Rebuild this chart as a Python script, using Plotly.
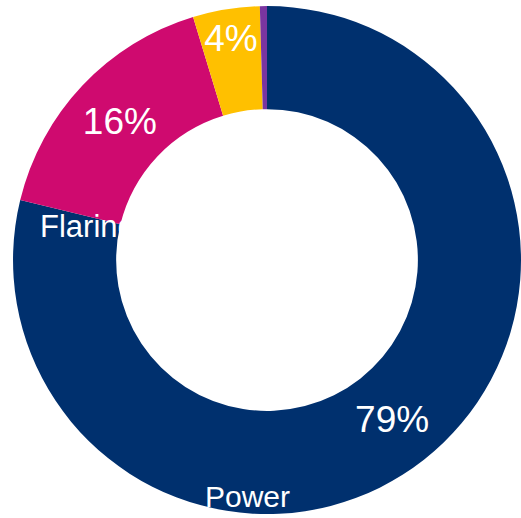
import plotly.graph_objects as go

labels = ["Power", "Flaring", "Other", "Minor"]
values = [78.8, 16.5, 4.25, 0.45]
pct_text = ["79%", "16%", "4%", ""]
colors = ["#00306E", "#CF0A6F", "#FFC000", "#7A35A0"]


def main():
    fig = go.Figure()
    fig.add_trace(go.Pie(
        labels=labels,
        values=values,
        text=pct_text,
        textinfo="text",
        textposition="inside",
        insidetextorientation="horizontal",
        textfont=dict(family="Liberation Sans, Arial", size=37, color="white"),
        marker=dict(colors=colors, line=dict(width=0)),
        hole=0.594,
        sort=False,
        direction="clockwise",
        rotation=0,
        domain=dict(x=[0.025, 1], y=[0, 0.996]),
        showlegend=False,
        hoverinfo="label+value",
    ))

    # category labels sitting on the ring
    fig.add_annotation(x=38 / 521, y=1 - 239 / 518, xref="paper", yref="paper",
                       xanchor="left", yanchor="bottom", yshift=-7,
                       text="Flaring", showarrow=False,
                       font=dict(family="Liberation Sans, Arial", size=31, color="white"))
    fig.add_annotation(x=203 / 521, y=1 - 508 / 518, xref="paper", yref="paper",
                       xanchor="left", yanchor="bottom", yshift=-7,
                       text="Power", showarrow=False,
                       font=dict(family="Liberation Sans, Arial", size=30, color="white"))

    fig.update_layout(
        width=521, height=518,
        margin=dict(l=0, r=0, t=0, b=0),
        paper_bgcolor="white",
        plot_bgcolor="white",
        uniformtext=dict(minsize=37, mode="show"),
    )
    fig.write_html("out.html", config={"displayModeBar": False},
                   post_script="document.body.style.margin='0';")


if __name__ == '__main__':
    main()
